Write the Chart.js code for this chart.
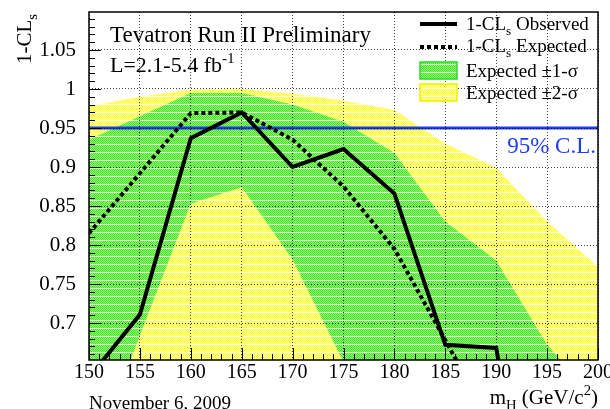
<!DOCTYPE html>
<html>
<head>
<meta charset="utf-8">
<script src="https://cdn.jsdelivr.net/npm/chart.js@4.4.1/dist/chart.umd.min.js"></script>
<style>
    html, body { margin: 0; padding: 0; background: #fff; }
    #wrap { width: 610px; height: 409px; }
</style>
</head>
<body>
<div id="wrap"><canvas id="cls-chart" width="610" height="409"></canvas></div>
<script>
// Higgs mass points (GeV/c^2)
const massPoints = [150, 155, 160, 165, 170, 175, 180, 185, 190, 195, 200];

// 1-CLs observed and expected
const obsCLs = [0.630, 0.711, 0.937, 0.970, 0.900, 0.923, 0.866, 0.672, 0.668, 0.300, 0.300];
const expCLs = [0.815, 0.892, 0.969, 0.970, 0.935, 0.875, 0.795, 0.678, 0.560, 0.450, 0.400];

// expected bands
const expPlus1 = [0.935, 0.965, 0.995, 0.995, 0.980, 0.958, 0.918, 0.830, 0.780, 0.672, 0.600];
const expMinus1 = [0.510, 0.684, 0.853, 0.874, 0.781, 0.650, 0.600, 0.550, 0.500, 0.450, 0.400];
const expPlus2 = [0.978, 0.990, 0.999, 1.000, 0.994, 0.985, 0.973, 0.930, 0.899, 0.830, 0.772];
const expMinus2 = [0.400, 0.450, 0.600, 0.620, 0.550, 0.450, 0.400, 0.350, 0.300, 0.250, 0.200];

const clLevel = 0.95;
const clLine = [clLevel, clLevel];
const clRange = [150, 200];

const SERIF = '"Liberation Serif", "DejaVu Serif", serif';

function points(xs, ys) {
    return xs.map((x, i) => ({ x: x, y: ys[i] }));
}

// small tiled fill, checker with a light row like the ROOT pattern fills
function makePattern(base, light, row) {
    const c = document.createElement('canvas');
    c.width = 2; c.height = 8;
    const g = c.getContext('2d');
    for (let y = 0; y < 8; y++) {
        for (let x = 0; x < 2; x++) {
            g.fillStyle = y === 0 ? row : ((x + y) % 2 ? light : base);
            g.fillRect(x, y, 1, 1);
        }
    }
    return g.createPattern(c, 'repeat');
}

const greenFill = makePattern('rgb(70,228,40)', 'rgb(150,244,120)', 'rgb(215,250,205)');
const yellowFill = makePattern('rgb(255,255,50)', 'rgb(255,255,165)', 'rgb(255,255,215)');

// text with sub/superscript pieces: [text, 'sub'|'sup'|undefined]
function richText(ctx, parts, x, y, size, align) {
    const widths = parts.map(p => {
        ctx.font = (p[1] ? size * 0.7 : size) + 'px ' + SERIF;
        return ctx.measureText(p[0]).width;
    });
    const total = widths.reduce((a, b) => a + b, 0);
    let cx = align === 'right' ? x - total : x;
    parts.forEach((p, i) => {
        ctx.font = (p[1] ? size * 0.7 : size) + 'px ' + SERIF;
        let dy = 0;
        if (p[1] === 'sub') dy = size * 0.28;
        if (p[1] === 'sup') dy = -size * 0.42;
        ctx.fillText(p[0], cx, y + dy);
        cx += widths[i];
    });
}

const decorPlugin = {
    id: 'decor',
    afterDraw(chart) {
        const ctx = chart.ctx;
        const xs = chart.scales.x, ys = chart.scales.y;
        const { left, right, top, bottom } = chart.chartArea;
        ctx.save();

        // tick marks inside the frame
        ctx.strokeStyle = '#000';
        ctx.lineWidth = 1;
        ctx.beginPath();
        for (let v = 150; v <= 200; v++) {
            const px = Math.round(xs.getPixelForValue(v)) + 0.5;
            const len = v % 5 === 0 ? 12 : 6;
            ctx.moveTo(px, bottom);
            ctx.lineTo(px, bottom - len);
        }
        for (let k = 66; k <= 109; k++) {
            const py = Math.round(ys.getPixelForValue(k / 100)) + 0.5;
            const len = k % 5 === 0 ? 12 : 6;
            ctx.moveTo(left, py);
            ctx.lineTo(left + len, py);
        }
        ctx.stroke();

        // frame
        ctx.lineWidth = 1.5;
        ctx.strokeRect(left, top, right - left, bottom - top);

        ctx.fillStyle = '#000';
        ctx.textBaseline = 'alphabetic';
        ctx.textAlign = 'left';

        richText(ctx, [['Tevatron Run II Preliminary']], 110, 42, 23);
        richText(ctx, [['L=2.1-5.4 fb'], ['-1', 'sup']], 110, 72, 22);

        // y axis title, rotated
        ctx.save();
        ctx.translate(31, 64);
        ctx.rotate(-Math.PI / 2);
        richText(ctx, [['1-CL'], ['s', 'sub']], 0, 0, 21);
        ctx.restore();

        richText(ctx, [['m'], ['H', 'sub'], [' (GeV/c'], ['2', 'sup'], [')']], 598, 404, 21, 'right');
        richText(ctx, [['November 6, 2009']], 89, 409, 19);

        // 95% C.L.
        ctx.fillStyle = 'rgb(30,60,240)';
        richText(ctx, [['95% C.L.']], 596, 153, 23, 'right');

        // legend
        const lx = 420, lw = 37, tx = 466;
        ctx.fillStyle = '#000';
        ctx.strokeStyle = '#000';
        ctx.lineWidth = 4;
        ctx.beginPath();
        ctx.moveTo(lx, 24); ctx.lineTo(lx + lw, 24);
        ctx.stroke();
        richText(ctx, [['1-CL'], ['s', 'sub'], [' Observed']], tx, 30, 19);

        ctx.setLineDash([4, 3]);
        ctx.beginPath();
        ctx.moveTo(lx, 47); ctx.lineTo(lx + lw, 47);
        ctx.stroke();
        ctx.setLineDash([]);
        richText(ctx, [['1-CL'], ['s', 'sub'], [' Expected']], tx, 52, 19);

        ctx.lineWidth = 1.5;
        ctx.fillStyle = greenFill;
        ctx.fillRect(lx, 62, lw, 17);
        ctx.strokeStyle = 'rgb(40,220,40)';
        ctx.strokeRect(lx, 62, lw, 17);
        ctx.fillStyle = yellowFill;
        ctx.fillRect(lx, 84, lw, 17);
        ctx.strokeStyle = 'rgb(238,238,0)';
        ctx.strokeRect(lx, 84, lw, 17);

        ctx.fillStyle = '#000';
        richText(ctx, [['Expected \u00b11-\u03c3']], tx, 77, 19);
        richText(ctx, [['Expected \u00b12-\u03c3']], tx, 99, 19);

        ctx.restore();
    }
};

const ctx = document.getElementById('cls-chart').getContext('2d');

new Chart(ctx, {
    type: 'line',
    data: {
        datasets: [
            {
                label: '1-CLs Observed',
                data: points(massPoints, obsCLs),
                borderColor: '#000',
                borderWidth: 4,
                pointRadius: 0,
                fill: false
            },
            {
                label: '1-CLs Expected',
                data: points(massPoints, expCLs),
                borderColor: '#000',
                borderWidth: 4,
                borderDash: [4, 3],
                pointRadius: 0,
                fill: false
            },
            {
                label: '95% C.L.',
                data: points(clRange, clLine),
                borderColor: 'rgb(30,60,235)',
                borderWidth: 3,
                pointRadius: 0,
                fill: false
            },
            {
                label: 'Expected +1 sigma',
                data: points(massPoints, expPlus1),
                borderWidth: 0,
                pointRadius: 0,
                backgroundColor: greenFill,
                fill: '+1'
            },
            {
                label: 'Expected -1 sigma',
                data: points(massPoints, expMinus1),
                borderWidth: 0,
                pointRadius: 0,
                fill: false
            },
            {
                label: 'Expected +2 sigma',
                data: points(massPoints, expPlus2),
                borderWidth: 0,
                pointRadius: 0,
                backgroundColor: yellowFill,
                fill: '+1'
            },
            {
                label: 'Expected -2 sigma',
                data: points(massPoints, expMinus2),
                borderWidth: 0,
                pointRadius: 0,
                fill: false
            }
        ]
    },
    options: {
        responsive: false,
        animation: false,
        devicePixelRatio: 1,
        layout: {
            padding: { left: 0, top: 12, right: 12, bottom: 0 }
        },
        plugins: {
            legend: { display: false },
            tooltip: { enabled: false },
            title: { display: false }
        },
        scales: {
            x: {
                type: 'linear',
                min: 150,
                max: 200,
                ticks: {
                    stepSize: 5,
                    padding: 1,
                    color: '#000',
                    font: { family: SERIF, size: 20 }
                },
                grid: {
                    z: 1,
                    color: 'rgba(0,0,0,0.75)',
                    lineWidth: 1,
                    drawTicks: false
                },
                border: { display: false, dash: [1, 2] },
                afterFit(scale) {
                    scale.height = 49;
                    scale.paddingLeft = 0;
                    scale.paddingRight = 0;
                }
            },
            y: {
                min: 0.6526,
                max: 1.0987,
                ticks: {
                    stepSize: 0.05,
                    includeBounds: false,
                    padding: 13,
                    color: '#000',
                    font: { family: SERIF, size: 21 },
                    callback: v => String(+v.toFixed(2))
                },
                grid: {
                    z: 1,
                    color: 'rgba(0,0,0,0.75)',
                    lineWidth: 1,
                    drawTicks: false
                },
                border: { display: false, dash: [1, 2] },
                afterFit(scale) {
                    scale.width = 89;
                    scale.paddingTop = 0;
                    scale.paddingBottom = 0;
                }
            }
        }
    },
    plugins: [decorPlugin]
});
</script>
</body>
</html>
